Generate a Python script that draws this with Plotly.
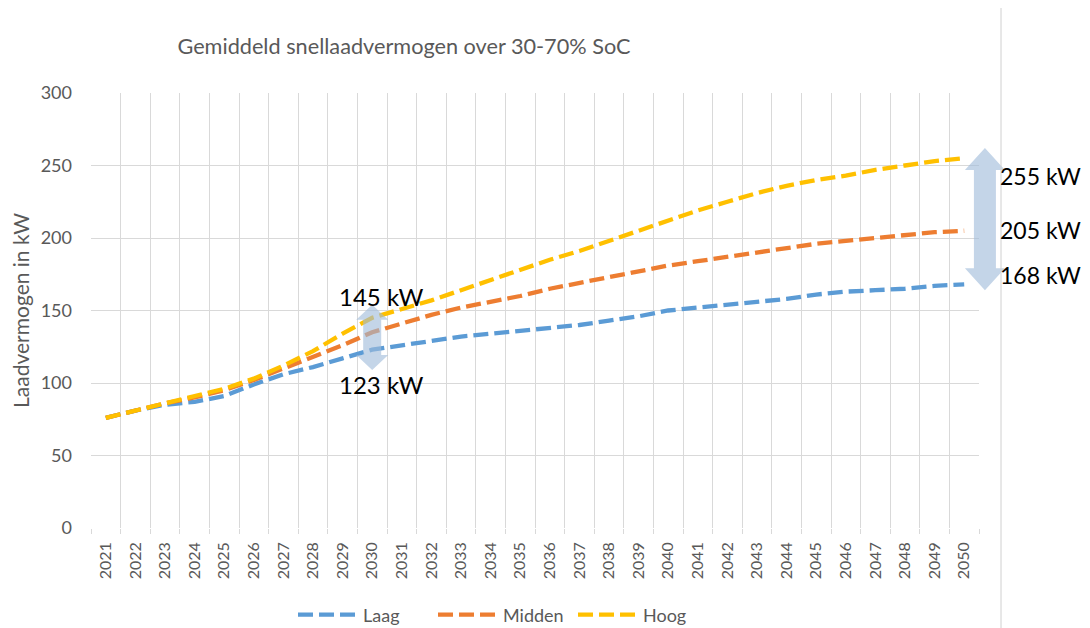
import plotly.graph_objects as go

years = list(range(2021, 2051))
laag = [76, 81, 85, 87, 91, 99, 106, 111, 117, 123, 126, 129, 132, 134, 136,
        138, 140, 143, 146, 150, 152, 154, 156, 158, 161, 163, 164, 165, 167, 168]
midden = [76, 81, 86, 90, 95, 102, 110, 118, 126, 135, 141, 147, 152, 156, 160,
          165, 169, 173, 177, 181, 184, 187, 190, 193, 196, 198, 200, 202, 204, 205]
hoog = [76, 81, 86, 91, 96, 103, 112, 122, 134, 145, 151, 157, 164, 171, 178,
        185, 191, 198, 205, 212, 219, 225, 231, 236, 240, 243, 247, 250, 253, 255]
series_names = ["Laag", "Midden", "Hoog"]
series_colors = ["#5B9BD5", "#ED7D31", "#FFC000"]

title_text = "Gemiddeld snellaadvermogen over 30-70% SoC"
y_title = "Laadvermogen in kW"

FONT = "Lato, Open Sans, sans-serif"
GRAY = "#595959"
GRID = "#D9D9D9"

# the page body adds an 8px margin; the figure is sized to compensate
OFF = 8
W, H = 1090 - 2 * OFF, 628 - OFF

fig = go.Figure()
for name, vals, col in zip(series_names, [laag, midden, hoog], series_colors):
    fig.add_trace(go.Scatter(
        x=years, y=vals, name=name, mode="lines",
        line=dict(color=col, width=4.3, dash="15px,6px"),
    ))

x0, x1 = years[0] - 0.5, years[-1] + 0.5
PLOT_W = 888.0
PLOT_H = 435.0
Y_PER_PX = 300 / PLOT_H
ML, MT = 91 - OFF, 93 - OFF


def px(year):
    return (year - x0) / (x1 - x0)


def arrow_path(xc_year, top, bottom, head_hw_px, shaft_hw_px, head_h_px):
    xc = px(xc_year)
    hw = head_hw_px / PLOT_W
    sw = shaft_hw_px / PLOT_W
    hh = head_h_px * Y_PER_PX
    pts = [
        (xc, top), (xc + hw, top - hh), (xc + sw, top - hh),
        (xc + sw, bottom + hh), (xc + hw, bottom + hh), (xc, bottom),
        (xc - hw, bottom + hh), (xc - sw, bottom + hh), (xc - sw, top - hh),
        (xc - hw, top - hh),
    ]
    return "M " + " L ".join(f"{a},{b}" for a, b in pts) + " Z"


i30 = years.index(2030)
shapes = [
    dict(type="path", xref="paper", yref="y",
         path=arrow_path(2030, hoog[i30] + 9, laag[i30] - 14, 16, 9, 15),
         fillcolor="rgba(160,187,218,0.62)", line=dict(width=0), layer="above"),
    dict(type="path", xref="paper", yref="y",
         path=arrow_path(years[-1] + 0.7, hoog[-1] + 7, laag[-1] - 4, 20, 11, 22),
         fillcolor="rgba(160,187,218,0.62)", line=dict(width=0), layer="above"),
    dict(type="line", xref="paper", yref="paper",
         x0=(1001 - 91) / PLOT_W, x1=(1001 - 91) / PLOT_W, y0=-0.25, y1=1.2,
         line=dict(color="#D0D0D0", width=1)),
]

ann_font = dict(family=FONT, size=24, color="#000000")
right_font = dict(family=FONT, size=23, color="#000000")
right_x = (998 - 91) / PLOT_W
annotations = [
    dict(x=2030.3, y=hoog[i30] + 15, xref="x", yref="y", text=f"{hoog[i30]} kW",
         showarrow=False, font=ann_font, xanchor="center", yanchor="middle"),
    dict(x=2030.3, y=laag[i30] - 24, xref="x", yref="y", text=f"{laag[i30]} kW",
         showarrow=False, font=ann_font, xanchor="center", yanchor="middle"),
    dict(x=right_x, y=hoog[-1] - 12, xref="paper", yref="y",
         text=f"{hoog[-1]} kW", showarrow=False, font=right_font,
         xanchor="left", yanchor="middle"),
    dict(x=right_x, y=midden[-1] + 0.5, xref="paper", yref="y",
         text=f"{midden[-1]} kW", showarrow=False, font=right_font,
         xanchor="left", yanchor="middle"),
    dict(x=right_x, y=laag[-1] + 6.5, xref="paper", yref="y",
         text=f"{laag[-1]} kW", showarrow=False, font=right_font,
         xanchor="left", yanchor="middle"),
]

fig.update_layout(
    width=W, height=H,
    margin=dict(l=ML, r=W - ML - PLOT_W, t=MT, b=H - MT - PLOT_H, autoexpand=False),
    paper_bgcolor="white", plot_bgcolor="white",
    font=dict(family=FONT, color=GRAY),
    title=dict(text=title_text, x=(404 - OFF) / W, xref="container", xanchor="center",
               y=1 - (46 - OFF) / H, yanchor="middle",
               font=dict(family=FONT, size=21.7, color=GRAY)),
    legend=dict(orientation="h", x=(293 - 91) / PLOT_W, xanchor="left",
                y=-0.2, yanchor="middle",
                font=dict(family=FONT, size=18, color=GRAY), itemwidth=60,
                entrywidth=65, entrywidthmode="pixels",
                traceorder="normal"),
    shapes=shapes,
    annotations=annotations,
)
fig.update_xaxes(
    range=[x0, x1], tickmode="array", tickvals=years,
    ticktext=[str(y) for y in years], tickangle=-90,
    tickfont=dict(family=FONT, size=16, color=GRAY),
    showgrid=False, zeroline=False, showline=False, ticks="",
    ticklabelstandoff=10, automargin=False,
    minor=dict(tickvals=[y - 0.5 for y in years] + [x1], showgrid=True,
               gridcolor=GRID, gridwidth=1, ticks="outside", ticklen=5,
               tickcolor=GRID),
)
fig.update_yaxes(
    range=[0, 300], dtick=50, tick0=0, automargin=False,
    showgrid=True, gridcolor=GRID, gridwidth=1, zeroline=False, showline=False,
    tickfont=dict(family=FONT, size=18, color=GRAY), ticks="",
    ticklabelstandoff=18,
    title=dict(text=y_title, font=dict(family=FONT, size=21, color=GRAY), standoff=10),
)

fig.write_html("out.html")
